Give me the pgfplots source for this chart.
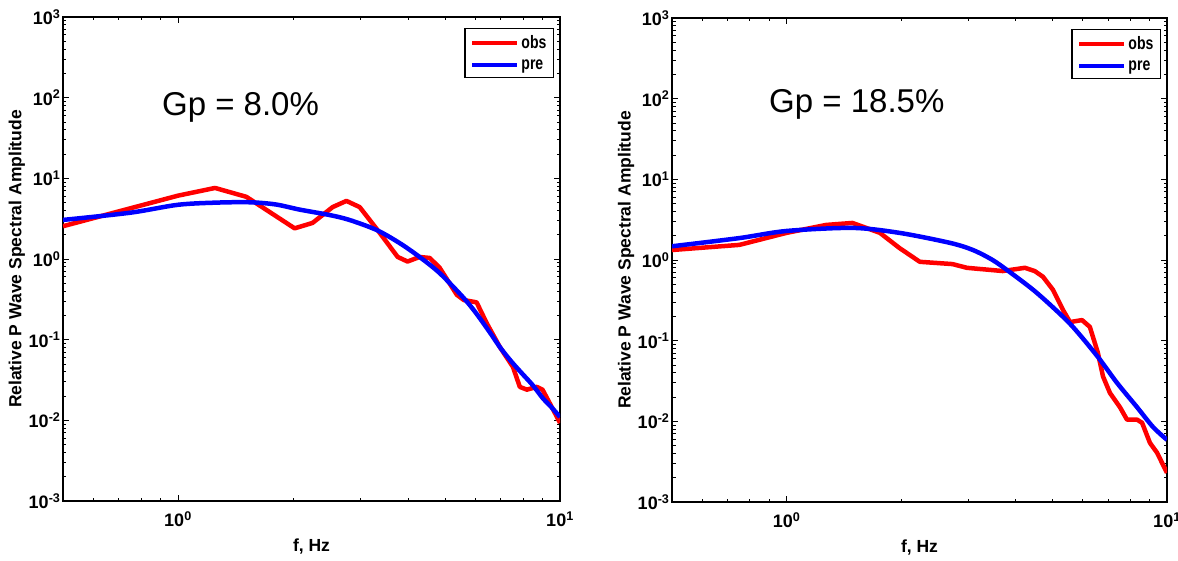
\documentclass[border=0pt]{standalone}
\usepackage{pgfplots}
\pgfplotsset{compat=1.18}
\usepackage{graphicx}
\usepackage{fontspec}
\setmainfont{Liberation Sans}

\pgfplotstableread{
f v
0.5 2.55
1.0 6.1
1.25 7.6
1.51 5.9
2.02 2.4
2.25 2.8
2.54 4.4
2.76 5.25
2.99 4.4
3.35 2.2
3.76 1.06
3.99 0.93
4.29 1.06
4.56 1.03
4.84 0.78
5.37 0.36
5.6 0.31
6.05 0.29
6.43 0.16
6.96 0.081
7.53 0.046
7.85 0.026
8.19 0.024
8.7 0.026
9.0 0.024
9.6 0.0135
10 0.0093
}\obsA

\pgfplotstableread{
f v
0.5 3.05
0.75 3.75
1.0 4.7
1.26 5.0
1.54 5.05
1.8 4.75
2.08 4.1
2.5 3.5
2.81 3.05
3.31 2.29
3.8 1.58
4.29 1.06
4.84 0.67
5.56 0.34
6.0 0.22
6.5 0.13
7.0 0.078
7.5 0.052
8.0 0.037
8.5 0.027
9.0 0.019
9.5 0.0145
10 0.011
}\preA

\pgfplotstableread{
f v
0.5 1.33
0.752 1.54
1.0 2.17
1.27 2.72
1.49 2.88
1.76 2.17
1.98 1.41
2.24 0.95
2.73 0.89
2.98 0.80
3.7 0.73
4.23 0.80
4.49 0.73
4.72 0.62
5.01 0.43
5.33 0.24
5.56 0.17
5.98 0.18
6.27 0.148
6.58 0.071
6.79 0.036
7.08 0.0225
7.52 0.015
7.85 0.0105
8.34 0.0105
8.6 0.0096
9.02 0.0054
9.41 0.0041
10 0.0023
}\obsB

\pgfplotstableread{
f v
0.5 1.48
0.752 1.87
1.0 2.29
1.49 2.5
1.98 2.17
2.69 1.63
3.09 1.33
3.48 1.0
3.86 0.71
4.44 0.43
5.01 0.26
5.66 0.148
6.58 0.063
7.39 0.030
8.34 0.015
9.19 0.0085
10 0.0059
}\preB

\newcommand{\legtxt}[1]{\scalebox{0.78}[1]{\bfseries\fontsize{18}{20}\selectfont #1}}

\begin{document}
\begin{tikzpicture}
\useasboundingbox (0,0) rectangle (1178pt,560pt);
\pgfplotsset{
  every axis/.append style={
    xmode=log, ymode=log,
    xmin=0.5, xmax=10, ymin=1e-3, ymax=1e3,
    scale only axis, height=484pt, anchor=south west,
    xtick={1,10},
    xticklabels={10\textsuperscript{0},10\textsuperscript{1}},
    ytick={1e-3,1e-2,1e-1,1,10,100,1000},
    yticklabels={10\textsuperscript{-3},10\textsuperscript{-2},10\textsuperscript{-1},10\textsuperscript{0},10\textsuperscript{1},10\textsuperscript{2},10\textsuperscript{3}},
    minor xtick={0.6,0.7,0.8,0.9,2,3,4,5,6,7,8,9},
    minor ytick={0.002,0.003,0.004,0.005,0.006,0.007,0.008,0.009,
                 0.02,0.03,0.04,0.05,0.06,0.07,0.08,0.09,
                 0.2,0.3,0.4,0.5,0.6,0.7,0.8,0.9,
                 2,3,4,5,6,7,8,9,
                 20,30,40,50,60,70,80,90,
                 200,300,400,500,600,700,800,900},
    tick align=inside, tick pos=both,
    major tick length=6pt, minor tick length=3.5pt,
    axis line style={line width=1.3pt},
    tick label style={font=\bfseries\fontsize{18}{20}\selectfont},
    xticklabel style={yshift=-7pt},
    yticklabel style={xshift=1pt},
    xlabel={f, Hz},
    ylabel={Relative P Wave Spectral Amplitude},
    xlabel style={font=\bfseries\fontsize{17.5}{20}\selectfont, at={(axis description cs:0.5,-0.095)}, anchor=center},
    ylabel style={font=\bfseries\fontsize{17.5}{20}\selectfont, at={(axis description cs:-0.0926,0.5)}, anchor=center, rotate=0},
    legend style={at={(rel axis cs:0.988,0.977)}, anchor=north east,
      draw=black, line width=1.3pt,
      nodes={inner xsep=2pt, inner ysep=3pt},
      inner xsep=5pt, inner ysep=4pt, row sep=3pt},
    legend cell align=left,
  },
  every tick/.append style={line width=0.9pt, black},
}

\begin{axis}[at={(63pt,59pt)}, width=497pt,
  legend image code/.code={\draw[#1, line width=4.5pt] (0pt,0pt) -- (45pt,0pt);}]
\addplot[red, line width=4.5pt, line join=round] table[x=f,y=v] {\obsA};
\addlegendentry{\legtxt{obs}}
\addplot[blue, line width=4.5pt, line join=round, smooth] table[x=f,y=v] {\preA};
\addlegendentry{\legtxt{pre}}
\node[anchor=base west, inner sep=0pt, font=\fontsize{33}{38}\selectfont] at (rel axis cs:0.199,0.7975) {Gp = 8.0\%};
\end{axis}

\begin{axis}[at={(672pt,58pt)}, width=495pt,
  legend image code/.code={\draw[#1, line width=4.5pt] (0pt,0pt) -- (45pt,0pt);}]
\addplot[red, line width=4.5pt, line join=round] table[x=f,y=v] {\obsB};
\addlegendentry{\legtxt{obs}}
\addplot[blue, line width=4.5pt, line join=round, smooth] table[x=f,y=v] {\preB};
\addlegendentry{\legtxt{pre}}
\node[anchor=base west, inner sep=0pt, font=\fontsize{33}{38}\selectfont] at (rel axis cs:0.196,0.804) {Gp = 18.5\%};
\end{axis}
\end{tikzpicture}
\end{document}
